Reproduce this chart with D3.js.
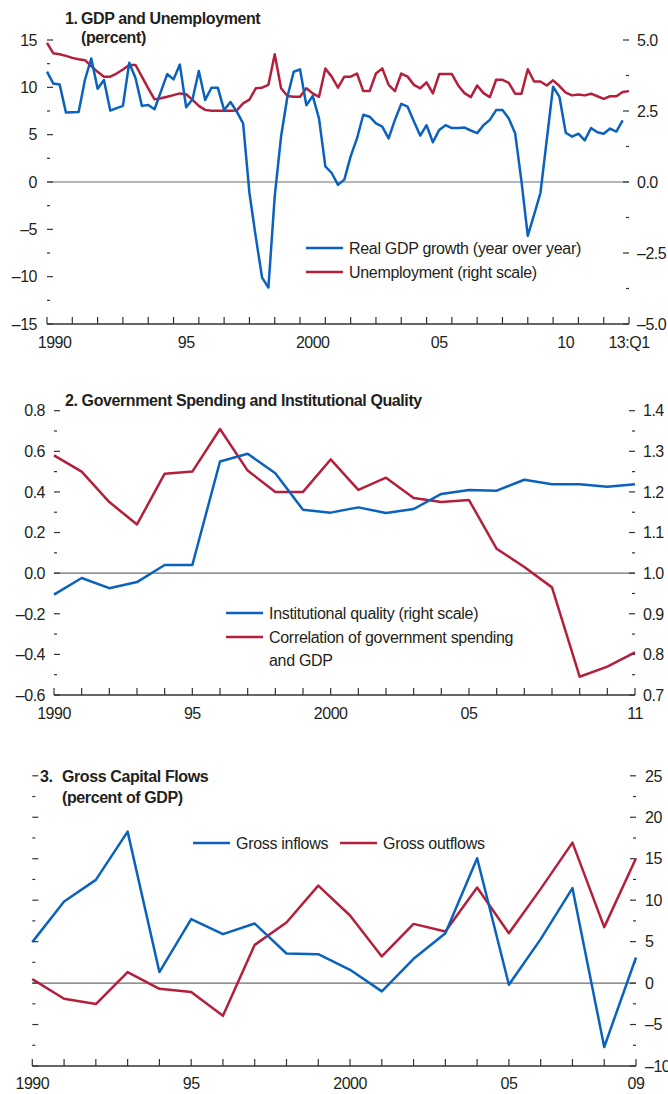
<!DOCTYPE html>
<html>
<head>
<meta charset="utf-8">
<script src="https://cdn.jsdelivr.net/npm/d3@7"></script>
<style>
  body { margin: 0; background: #fff; }
  text { font-family: "Liberation Sans", Arial, sans-serif; fill: #231f20; }
</style>
</head>
<body>
<svg id="chart" width="668" height="1094"></svg>
<script>
// Panel 1: quarterly, GDP 1990Q1-2012Q4, unemployment 1990Q1-2013Q1
const gdpGrowth = [
  11.65, 10.4, 10.3, 7.33,   7.37, 7.4, 10.8, 13.05,   9.86, 10.77, 7.54, 7.8,
  8.04, 12.6, 10.95, 8.04,   8.14, 7.68, 9.54, 11.4,   10.84, 12.4, 7.9, 8.74,
  11.72, 8.67, 9.96, 9.96,   7.6, 8.45, 7.44, 6.2,     -1.16, -5.8, -10.1, -11.15,
  -1.5, 4.8, 9.0, 11.65,     11.9, 8.1, 9.1, 6.7,      1.65, 0.95, -0.3, 0.25,
  2.7, 4.6, 7.1, 6.9,        6.2, 5.85, 4.6, 6.56,     8.25, 7.96, 6.4, 4.9,
  6.0, 4.2, 5.5, 6.0,        5.7, 5.7, 5.75, 5.44,     5.16, 6.0, 6.56, 7.6,
  7.6, 6.7, 5.16, 0.1,       -5.7, -3.44, -1.16, 4.46, 10.07, 9.0, 5.2, 4.8,
  5.1, 4.4, 5.7, 5.26,       5.1, 5.65, 5.33, 6.5
];
const unemployment = [
  4.9, 4.53, 4.5, 4.44,   4.37, 4.32, 4.29, 4.08,   3.88, 3.71, 3.71, 3.82,
  3.96, 4.12, 4.12, 3.71, 3.3, 2.91, 2.95, 3.0,     3.06, 3.12, 3.09, 2.89,
  2.68, 2.54, 2.51, 2.51, 2.51, 2.51, 2.52, 2.77,   2.9, 3.3, 3.32, 3.42,
  4.5, 3.3, 3.03, 3.0,    3.0, 3.3, 3.12, 3.0,      4.0, 3.71, 3.32, 3.71,
  3.71, 3.82, 3.2, 3.2,   3.82, 4.0, 3.42, 3.2,     3.82, 3.71, 3.42, 3.3,
  3.51, 3.12, 3.8, 3.8,   3.8, 3.4, 3.13, 2.99,     3.4, 3.13, 2.99, 3.6,
  3.6, 3.49, 3.11, 3.11,  3.97, 3.54, 3.54, 3.4,    3.58, 3.38, 3.15, 3.05,
  3.08, 3.05, 3.11, 3.02, 2.93, 3.02, 3.02, 3.17,   3.2
];
const xLabels1 = [['1990', 1990.3], ['95', 1995.5], ['2000', 2000.5], ['05', 2005.5], ['10', 2010.5], ['13:Q1', 2013]];

// Panel 2: annual 1990-2011
const years2 = d3.range(1990, 2012);
const govSpendingCorr = [0.58, 0.50, 0.35, 0.24, 0.49, 0.50, 0.71, 0.505, 0.40, 0.40, 0.56,
  0.41, 0.47, 0.37, 0.35, 0.36, 0.12, 0.03, -0.07, -0.51, -0.46, -0.39];
const instQuality = [0.947, 0.988, 0.963, 0.978, 1.02, 1.02, 1.275, 1.294, 1.246, 1.156, 1.149,
  1.162, 1.148, 1.158, 1.195, 1.205, 1.203, 1.23, 1.219, 1.219, 1.213, 1.219];
const xLabels2 = [['1990', 1990], ['95', 1995], ['2000', 2000], ['05', 2005], ['11', 2011]];

// Panel 3: annual 1990-2009
const years3 = d3.range(1990, 2010);
const grossInflows = [4.94, 9.83, 12.45, 18.27, 1.33, 7.71, 5.9, 7.18, 3.57, 3.49,
  1.6, -1.0, 2.93, 6.02, 15.06, -0.2, 5.3, 11.45, -7.71, 3.09];
const grossOutflows = [0.48, -1.89, -2.53, 1.33, -0.69, -1.08, -3.94, 4.61, 7.3, 11.76,
  8.15, 3.21, 7.14, 6.22, 11.52, 6.02, 11.36, 16.94, 6.75, 15.06];
const xLabels3 = [['1990', 1990], ['95', 1995], ['2000', 2000], ['05', 2005], ['09', 2009]];

const blue = '#0b62bd';
const red = '#b41f3c';
const svg = d3.select('#chart');

const fmtInt = d => d < 0 ? '\u2013' + Math.abs(d) : String(d);
const fmt1 = d => (d < 0 ? '\u2013' : '') + Math.abs(d).toFixed(1);

// vertical ticks; dir = +1 draws to the right, -1 to the left
function yTicks(g, y, x, dir, step, major, labelX, anchor, fmt) {
  const [lo, hi] = y.domain();
  const n = Math.round((hi - lo) / step);
  for (let i = 0; i <= n; i++) {
    const v = lo + i * step;
    const isMajor = Math.abs(v / major - Math.round(v / major)) < 1e-6;
    g.append('line')
      .attr('x1', x).attr('x2', x + dir * (isMajor ? 6 : 3))
      .attr('y1', y(v)).attr('y2', y(v))
      .attr('stroke', '#333').attr('stroke-width', 1.2);
    if (isMajor && fmt) {
      g.append('text')
        .attr('x', labelX).attr('y', y(v)).attr('dy', '0.36em')
        .attr('text-anchor', anchor)
        .style('font-size', '16px').style('letter-spacing', '-0.5px')
        .text(fmt(Math.round(v * 100) / 100));
    }
  }
}

function xAxis(g, x, yPos, years, labels, labelY) {
  g.append('line')
    .attr('x1', x.range()[0]).attr('x2', x.range()[1])
    .attr('y1', yPos).attr('y2', yPos)
    .attr('stroke', '#333').attr('stroke-width', 1.3);
  g.selectAll(null).data(years).enter().append('line')
    .attr('x1', d => x(d)).attr('x2', d => x(d))
    .attr('y1', yPos).attr('y2', yPos - 7)
    .attr('stroke', '#333').attr('stroke-width', 1.2);
  g.selectAll(null).data(labels).enter().append('text')
    .attr('x', d => x(d[1])).attr('y', labelY)
    .attr('text-anchor', 'middle')
    .style('font-size', '16px').style('letter-spacing', '-0.5px')
    .text(d => d[0]);
}

function zeroLine(g, x, yPos) {
  g.append('line')
    .attr('x1', x.range()[0]).attr('x2', x.range()[1])
    .attr('y1', yPos).attr('y2', yPos)
    .attr('stroke', '#6d6e71').attr('stroke-width', 1.2);
}

function series(g, data, xf, yf, color) {
  g.append('path')
    .datum(data)
    .attr('fill', 'none')
    .attr('stroke', color)
    .attr('stroke-width', 2.5)
    .attr('stroke-linejoin', 'round')
    .attr('d', d3.line().x(xf).y(yf));
}

function legendItem(g, x, y, color, lines) {
  g.append('line')
    .attr('x1', x).attr('x2', x + 37).attr('y1', y).attr('y2', y)
    .attr('stroke', color).attr('stroke-width', 2.5);
  lines.forEach((t, i) => {
    g.append('text')
      .attr('x', x + 43).attr('y', y + 6 + i * 23)
      .style('font-size', '16px').style('letter-spacing', '-0.3px')
      .text(t);
  });
}

function title(g, x, y, txt) {
  g.append('text')
    .attr('x', x).attr('y', y)
    .style('font-size', '16px').style('font-weight', 'bold').style('letter-spacing', '-0.4px')
    .text(txt);
}

// ---------- Panel 1 ----------
{
  const g = svg.append('g');
  const x = d3.scaleLinear().domain([1990, 2013]).range([47, 629]);
  const yL = d3.scaleLinear().domain([-15, 15]).range([324, 40]);
  const yR = d3.scaleLinear().domain([-5, 5]).range([324, 40]);
  const q = i => x(1990 + i / 4);

  zeroLine(g, x, yL(0));
  yTicks(g, yL, 47, 1, 2.5, 5, 37, 'end', fmtInt);
  yTicks(g, yR, 629, -1, 1.25, 2.5, 637, 'start', fmt1);
  xAxis(g, x, 324, d3.range(1990, 2014), xLabels1, 348);

  series(g, unemployment, (d, i) => q(i), d => yR(d), red);
  series(g, gdpGrowth, (d, i) => q(i), d => yL(d), blue);

  title(g, 65, 24, '1.');
  title(g, 81, 24, 'GDP and Unemployment');
  title(g, 81, 43, '(percent)');

  legendItem(g, 306, 248, blue, ['Real GDP growth (year over year)']);
  legendItem(g, 306, 272, red, ['Unemployment (right scale)']);
}

// ---------- Panel 2 ----------
{
  const g = svg.append('g');
  const x = d3.scaleLinear().domain([1990, 2011]).range([54, 635]);
  const yL = d3.scaleLinear().domain([-0.6, 0.8]).range([695, 410.7]);
  const yR = d3.scaleLinear().domain([0.7, 1.4]).range([695, 410.7]);

  zeroLine(g, x, yL(0));
  yTicks(g, yL, 54, 1, 0.1, 0.2, 45, 'end', fmt1);
  yTicks(g, yR, 635, -1, 0.05, 0.1, 643, 'start', fmt1);
  xAxis(g, x, 695, years2, xLabels2, 719);

  series(g, govSpendingCorr, (d, i) => x(years2[i]), d => yL(d), red);
  series(g, instQuality, (d, i) => x(years2[i]), d => yR(d), blue);

  title(g, 65, 406, '2. Government Spending and Institutional Quality');

  legendItem(g, 226, 613, blue, ['Institutional quality (right scale)']);
  legendItem(g, 226, 637, red, ['Correlation of government spending', 'and GDP']);
}

// ---------- Panel 3 ----------
{
  const g = svg.append('g');
  const x = d3.scaleLinear().domain([1990, 2009]).range([32.3, 636]);
  const y = d3.scaleLinear().domain([-10, 25]).range([1066, 775.8]);

  zeroLine(g, x, y(0));
  yTicks(g, y, 32.3, 1, 2.5, 5, 0, 'end', null);
  yTicks(g, y, 636, -1, 2.5, 5, 645, 'start', fmtInt);
  xAxis(g, x, 1066, years3, xLabels3, 1089);

  series(g, grossOutflows, (d, i) => x(years3[i]), d => y(d), red);
  series(g, grossInflows, (d, i) => x(years3[i]), d => y(d), blue);

  title(g, 40, 782, '3.');
  title(g, 62, 782, 'Gross Capital Flows');
  title(g, 62, 803, '(percent of GDP)');

  legendItem(g, 193, 843, blue, ['Gross inflows']);
  legendItem(g, 340, 843, red, ['Gross outflows']);
}
</script>
</body>
</html>
